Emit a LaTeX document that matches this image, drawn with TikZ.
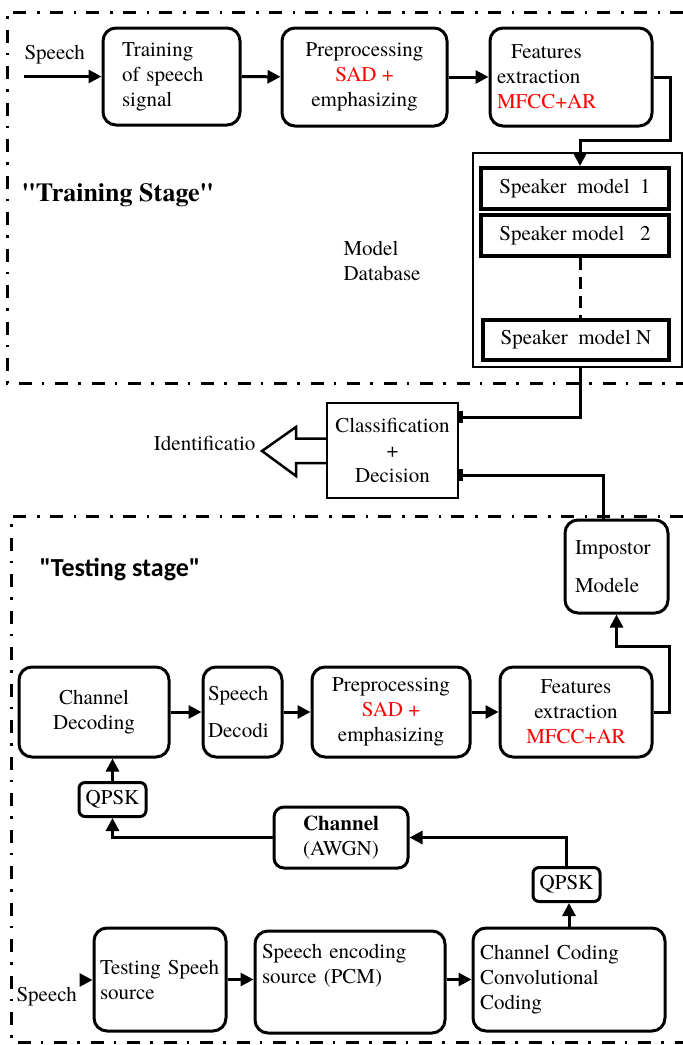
\documentclass[tikz,border=0pt]{standalone}
\usepackage{fontspec}
\IfFontExistsTF{texgyretermes-regular.otf}
  {\setmainfont{texgyretermes}[Extension=.otf, UprightFont=*-regular, BoldFont=*-bold, Ligatures=TeXOff]}
  {\setmainfont{Liberation Serif}[Ligatures=TeXOff]}
\newfontfamily\carlito{Carlito}
\usepackage{tikz}
\usetikzlibrary{arrows.meta,calc,positioning}

\tikzset{
  blk/.style={draw, line width=3pt, rounded corners=13pt, inner sep=0pt},
  spk/.style={draw, line width=4pt, minimum width=188pt, minimum height=41pt, inner sep=0pt},
  qp/.style={draw, line width=3pt, rounded corners=6pt, minimum width=67pt, minimum height=34pt, inner sep=0pt},
  arr/.style={line width=3pt, -{Triangle[length=13pt,width=13pt]}},
  tee/.style={line width=3pt, -{Bar[width=12pt,line width=3.5pt]}},
  stageframe/.style={line width=3pt, dash pattern=on 13pt off 10pt on 2.5pt off 11pt}
}

\begin{document}
\begin{tikzpicture}[x=1pt,y=-1pt,font=\fontsize{21}{25}\selectfont]
            \useasboundingbox (0,0) rectangle (683,1045);
            % Frame the training stage
            \draw[stageframe] (683,12) -- (7,12) -- (7,383) -- (683,383);
            \node[anchor=west, font=\bfseries\fontsize{26}{30}\selectfont] (trnlbl) at (18,195) {"Training Stage"};
            % Chain of the training stage
            \node[blk, minimum width=137pt, minimum height=97pt, text width=99pt, align=left] (trn) at (171.5,76.5) {Training\\of speech\\signal};
            \node[blk, minimum width=165pt, minimum height=98pt, align=center] (pre) at (364.5,77) {Preprocessing\\\textcolor{red}{SAD +}\\emphasizing};
            \node[blk, minimum width=162pt, minimum height=98pt, text width=148pt, align=left] (fea) at (571,77) {\hspace*{14pt}Features\\extraction\\\textcolor{red}{MFCC+AR}};
            \coordinate (spin) at (24,76.5);
            \node[anchor=west] (splbl) at (21,55) {Speech};
            \draw[arr] (spin) -- (trn.west);
            \draw[arr] (trn) -- (pre);
            \draw[arr] (pre) -- (fea);
            % Model database
            \node[draw, line width=1.2pt, minimum width=209pt, minimum height=214pt] (db) at (577.5,260) {};
            \node[spk] (sm1) at (575,188.5) {Speaker\ \ model\ \ 1};
            \node[spk] (sm2) at (575,235.5) {Speaker model\ \ \ 2};
            \node[spk, minimum width=186pt, minimum height=40pt] (smN) at (576,340) {Speaker\ \ model N};
            \draw[line width=3pt, dash pattern=on 12pt off 7pt] ($(sm2.south)+(5,0)$) -- ($(smN.north)+(4,0)$);
            \node[anchor=west, align=left] (dblbl) at (340,261) {Model\\Database};
            \draw[arr] (fea.east) -| (670,140) -| ($(sm1.north)+(5,0)$);
            % Classification and decision
            \node[draw, line width=2.5pt, minimum width=131pt, minimum height=95pt, inner sep=0pt, align=center] (cls) at (392.5,450.5) {Classification\\+\\Decision};
            \draw[line width=2.5pt] ($(cls.west)+(0,-12)$) -- (296,438.5) -- (296,427) -- (262,451) -- (296,476) -- (296,463) -- ($(cls.west)+(0,12.5)$);
            \node[anchor=east] (idlbl) at (259,443) {Identificatio};
            % Frame the testing stage
            \draw[stageframe] (683,516) -- (11,516) -- (11,1042) -- (683,1042);
            \node[anchor=west, font=\carlito\bfseries\fontsize{26}{30}\selectfont] (tstlbl) at (36,570) {"Testing stage"};
            \node[blk, minimum width=103pt, minimum height=93pt, text width=83pt, align=left] (imp) at (616.5,566.5) {Impostor\\[13pt]Modele};
            \draw[tee] ($(db.south)+(2.5,0)$) |- ($(cls.east)+(0,-33.5)$);
            \draw[tee] ($(imp.north)+(-13,0)$) |- ($(cls.east)+(0,24.5)$);
            % Receiving chain
            \node[blk, minimum width=150pt, minimum height=90pt, align=center] (cdec) at (94,712) {Channel\\Decoding};
            \node[blk, minimum width=79pt, minimum height=90pt, text width=69pt, align=left] (sdec) at (242.5,712) {Speech\\[12pt]Decodi};
            \node[blk, minimum width=158pt, minimum height=90pt, align=center] (pre2) at (391,712) {Preprocessing\\\textcolor{red}{SAD +}\\emphasizing};
            \node[blk, minimum width=152pt, minimum height=90pt, align=center] (fea2) at (576,712) {Features\\extraction\\\textcolor{red}{MFCC+AR}};
            \draw[arr] (cdec) -- (sdec);
            \draw[arr] (sdec) -- (pre2);
            \draw[arr] (pre2) -- (fea2);
            \draw[arr] (fea2.east) -| ++(16,-66) -| (imp.south);
            % Channel and modulation
            \node[qp] (qp1) at (112.5,799.5) {QPSK};
            \node[blk, rounded corners=10pt, minimum width=134pt, minimum height=61pt, align=center] (chn) at (341,837.5) {\textbf{Channel}\\(AWGN)};
            \node[qp] (qp2) at (566.5,884.5) {QPSK};
            \draw[arr] (qp1.north) -- (qp1.north |- cdec.south);
            \draw[arr] (chn.west) -| (qp1.south);
            \draw[arr] (qp2.north) |- (chn.east);
            % Sending chain
            \node[blk, minimum width=132pt, minimum height=103pt, text width=120pt, align=left] (tss) at (160,979.5) {Testing Speeh\\source};
            \node[blk, minimum width=190pt, minimum height=102pt, text width=176pt, text depth=61pt, align=left] (senc) at (350,982) {Speech encoding\\source (PCM)};
            \node[blk, minimum width=192pt, minimum height=103pt, text width=178pt, align=left] (chc) at (569,979.5) {Channel Coding\\Convolutional\\Coding};
            \coordinate (spin2) at (80,980);
            \node[anchor=west] (splbl2) at (13,997) {Speech};
            \draw[arr] (spin2) -- (tss.west |- spin2);
            \draw[arr] (tss.east) -- (senc.west |- tss.east);
            \draw[arr] (senc.east |- tss.east) -- (chc.west |- tss.east);
            \draw[arr] (chc.north) -- (chc.north |- qp2.south);
          \end{tikzpicture}
\end{document}
